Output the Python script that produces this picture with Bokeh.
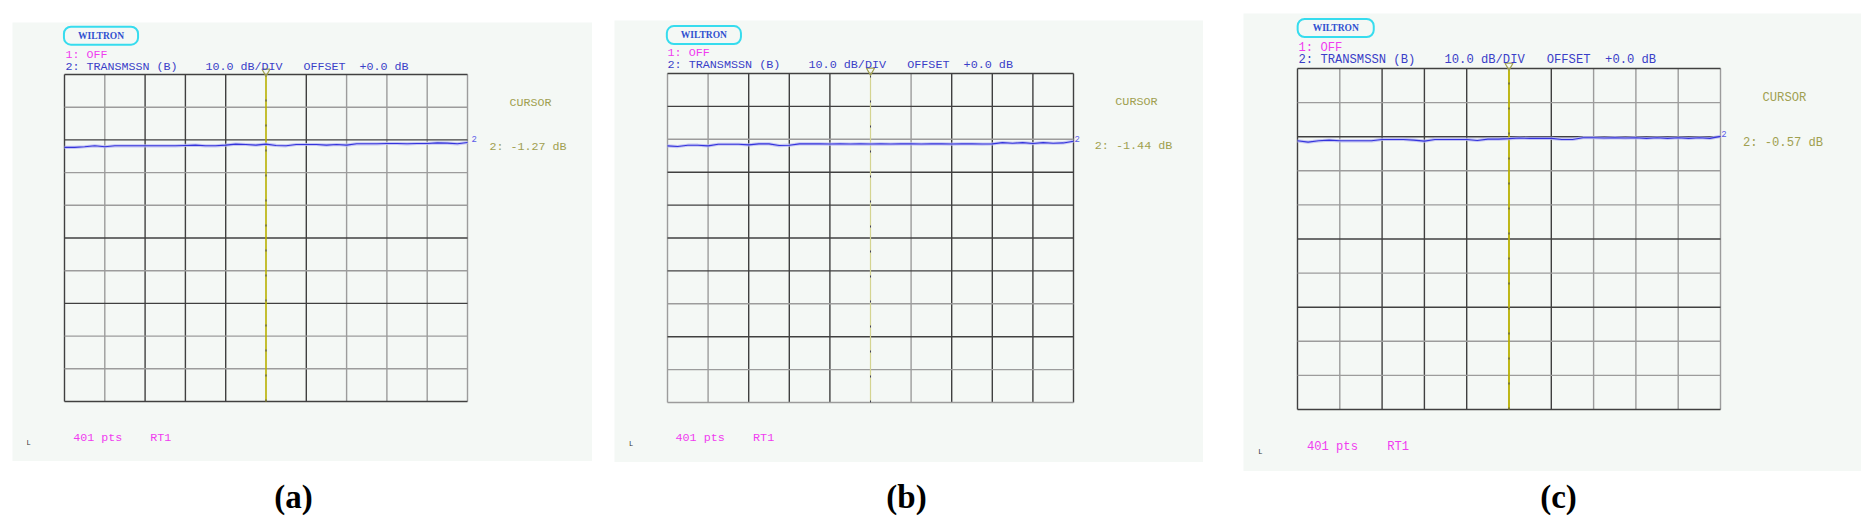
from bokeh.plotting import figure
from bokeh.models import Label, Spacer, Range1d
from bokeh.layouts import row, column
from bokeh.embed import file_html
from bokeh.resources import INLINE

# ---------------- data ----------------
points = list(range(0, 401, 10))          # trace sample positions (401 pts sweep)
trace_a = [-2.3, -2.3, -2.1, -1.8, -2.1, -1.8, -1.8, -1.8, -1.8, -1.8,
           -1.8, -1.8, -1.7, -1.6, -1.8, -1.8, -1.6, -1.3, -1.4, -1.6,
           -1.3, -1.7, -1.8, -1.4, -1.4, -1.4, -1.6, -1.4, -1.6, -1.2,
           -1.2, -1.2, -1.1, -1.1, -1.2, -1.1, -1.1, -0.9, -1.0, -1.2, -0.8]
trace_b = [-2.0, -2.2, -1.8, -1.8, -2.0, -1.5, -1.5, -1.5, -1.7, -1.4,
           -1.4, -1.9, -1.8, -1.4, -1.4, -1.4, -1.45, -1.4, -1.45, -1.4,
           -1.44, -1.4, -1.45, -1.4, -1.4, -1.45, -1.4, -1.4, -1.45, -1.4,
           -1.4, -1.45, -1.4, -1.0, -1.2, -1.0, -1.3, -1.0, -1.2, -1.1, -0.6]
trace_c = [-1.2, -1.6, -1.2, -1.0, -1.2, -1.2, -1.2, -1.2, -0.8, -0.8,
           -0.8, -1.0, -1.3, -0.8, -0.8, -0.8, -0.8, -1.1, -0.7, -0.7,
           -0.57, -0.4, -0.5, -0.5, -0.5, -0.8, -0.8, -0.3, -0.3, -0.4,
           -0.3, -0.4, -0.3, -0.5, -0.3, -0.5, -0.3, -0.5, -0.3, -0.5, 0.1]
cursor_point = 200
cursor_values = ["-1.27", "-1.44", "-0.57"]
captions = ["(a)", "(b)", "(c)"]
header_words = ["2: TRANSMSSN (B)", "10.0 dB/DIV", "OFFSET", "+0.0 dB"]
footer_words = ["401 pts", "RT1"]
y_top, y_bottom = 20, -80                 # 10.0 dB/DIV, 10 divisions
x_start, x_end = 0, 400

# ---------------- styles / geometry ----------------
BG = "#f4f8f5"
MAGENTA = "#f03cf0"
BLUE_TXT = "#3a3ec8"
OLIVE = "#a0a050"
TRACE = "#3434dc"
HALO = "#b8b8f2"
DARK = "#404040"
LIGHT = "#9c9c9c"
MONO = "Liberation Mono"
HEADER_COLS = [0, 20, 34, 42]             # character columns of the header words
FOOTER_COLS = [0, 11]

geoms = [
    dict(left=52, fw=403, right=125, top=52, fh=327, bottom=60, off_top=22,
         pitch=7.0, box=(88.5, 13.2), pad=(14, 4), off=(53, 32.5), hdr=(53, 44.3),
         cur=(497, 80.5), val=(477, 124), pts=(60.7, 415), L=(14, 420.7), two=(459, 116.3),
         cursor_color="#b8b000", cursor_w=1.6,
         dark_v=[0, 80, 120, 160, 240], light_v=[40, 280, 320, 360, 400],
         dark_h=[20, 0, -30, -50, -80], light_h=[10, -10, -20, -40, -60, -70]),
    dict(left=53, fw=406, right=130, top=53, fh=329, bottom=60, off_top=20,
         pitch=7.05, box=(89.4, 14.6), pad=(14, 4), off=(53, 32.8), hdr=(53, 44.7),
         cur=(500.8, 81.2), val=(480.3, 125.3), pts=(61, 417.7), L=(14.5, 423), two=(460, 118.7),
         cursor_color="#d4d490", cursor_w=1.2,
         dark_v=[80, 120, 160, 280, 320, 360, 400], light_v=[0, 40, 240],
         dark_h=[20, 10, -10, -20, -30, -40, -60], light_h=[0, -50, -70, -80]),
    dict(left=54, fw=423, right=141, top=55, fh=341, bottom=62, off_top=13,
         pitch=7.3, box=(92.2, 14.5), pad=(15, 4), off=(55, 34.1), hdr=(55, 46.7),
         cur=(519, 84.2), val=(499.4, 129), pts=(63.4, 433), L=(14.8, 438.7), two=(477.7, 120),
         cursor_color="#b8b000", cursor_w=1.8,
         dark_v=[0, 80, 120, 160, 240], light_v=[40, 280, 320, 360, 400],
         dark_h=[20, 0, -30, -50, -80], light_h=[10, -10, -20, -40, -60, -70]),
]


def build_panel(trace, cursor_value, g):
    sx = (x_end - x_start) / g["fw"]
    sy = (y_top - y_bottom) / g["fh"]
    font = "%.2fpx" % (g["pitch"] / 0.6)

    def d(px, py):
        return x_start + (px - g["left"]) * sx, y_top - (py - g["top"]) * sy

    W = g["left"] + g["fw"] + g["right"]
    H = g["top"] + g["fh"] + g["bottom"]
    p = figure(width=W, height=H, min_border=0,
               x_range=Range1d(x_start - g["left"] * sx, x_end + g["right"] * sx),
               y_range=Range1d(y_bottom - g["bottom"] * sy, y_top + g["top"] * sy),
               x_axis_type=None, y_axis_type=None, toolbar_location=None,
               output_backend="svg", background_fill_color=BG, border_fill_color=BG,
               outline_line_color=None)

    # graticule: 10 x 10 divisions
    for ticks, col in ((g["light_v"], LIGHT), (g["dark_v"], DARK)):
        p.segment(x0=ticks, y0=[y_bottom] * len(ticks), x1=ticks, y1=[y_top] * len(ticks),
                  line_color=col, line_width=1.4)
    for ticks, col in ((g["light_h"], LIGHT), (g["dark_h"], DARK)):
        p.segment(x0=[x_start] * len(ticks), y0=ticks, x1=[x_end] * len(ticks), y1=ticks,
                  line_color=col, line_width=1.4)

    # cursor
    p.segment(x0=[cursor_point], y0=[y_bottom], x1=[cursor_point], y1=[y_top],
              line_color=g["cursor_color"], line_width=g["cursor_w"])
    p.segment(x0=[cursor_point], y0=[y_bottom], x1=[cursor_point], y1=[y_top],
              line_color="#40405a", line_width=1, line_dash="2 23")
    tx, ty = d(0, g["top"] - 3)
    p.scatter([cursor_point], [ty], marker="inverted_triangle", size=8,
              fill_color=None, line_color=OLIVE, line_width=1.2)

    # trace
    p.line(points, trace, line_color=HALO, line_width=3.2, line_alpha=0.8)
    p.line(points, trace, line_color=TRACE, line_width=1.1)

    def lab(text, pos, color, size=font, fnt=MONO, col=0, baseline="alphabetic"):
        x, y = d(pos[0] + col * g["pitch"], pos[1])
        p.add_layout(Label(x=x, y=y, text=text, text_color=color, text_baseline=baseline,
                           text_font=fnt, text_font_size=size))

    # logo box
    bx, by = d(*g["box"])
    p.add_layout(Label(x=bx, y=by, text="WILTRON", text_color="#3050d0",
                       text_font="Liberation Serif", text_font_style="bold",
                       text_font_size="9.5px", text_align="center",
                       text_baseline="middle", border_line_color="#36dcee",
                       border_line_width=2, border_radius=7, padding=g["pad"]))

    lab("1: OFF", g["off"], MAGENTA)
    for word, c in zip(header_words, HEADER_COLS):
        lab(word, g["hdr"], BLUE_TXT, col=c)
    lab("CURSOR", g["cur"], OLIVE)
    lab("2: " + cursor_value + " dB", g["val"], OLIVE)
    for word, c in zip(footer_words, FOOTER_COLS):
        lab(word, g["pts"], MAGENTA, col=c)
    lab("L", g["L"], "#303030", size="7px")
    lab("2", g["two"], "#5a5ae8", size="9px", baseline="middle")
    return p


panels = [build_panel(t, v, g) for t, v, g in zip([trace_a, trace_b, trace_c], cursor_values, geoms)]

top_row = row(
    Spacer(width=12, height=1),
    column(Spacer(width=1, height=geoms[0]["off_top"]), panels[0]),
    Spacer(width=22, height=1),
    column(Spacer(width=1, height=geoms[1]["off_top"]), panels[1]),
    Spacer(width=40, height=1),
    column(Spacer(width=1, height=geoms[2]["off_top"]), panels[2]),
)

cap = figure(width=1861, height=50, x_range=Range1d(0, 1861), y_range=Range1d(0, 50),
             x_axis_type=None, y_axis_type=None, toolbar_location=None,
             output_backend="svg", min_border=0, outline_line_color=None,
             background_fill_color="white", border_fill_color="white")
for text, cx in zip(captions, [293, 906, 1558]):
    cap.add_layout(Label(x=cx, y=7, text=text, text_font="Liberation Serif",
                         text_font_style="bold", text_font_size="33px",
                         text_align="center", text_color="black"))

layout = column(top_row, cap)
open("out.html", "w").write(file_html(layout, INLINE))
